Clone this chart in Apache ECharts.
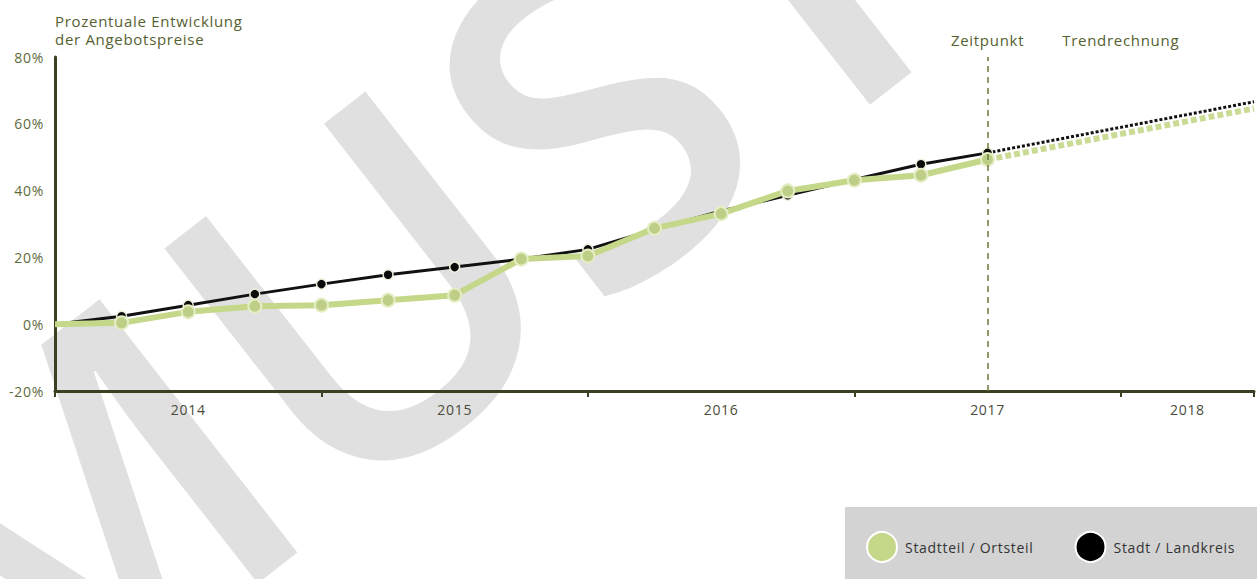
<!DOCTYPE html>
<html>
<head>
<meta charset="utf-8">
<script src="https://cdn.jsdelivr.net/npm/echarts@6/dist/echarts.min.js"></script>
<style>
  html, body { margin: 0; padding: 0; background: #fff; }
  #chart { width: 1257px; height: 579px; }
  #chart text { letter-spacing: 0.7px; }
</style>
</head>
<body>
<div id="chart"></div>
<script>
// Quarterly index (0 = start of 2014), values in percent
const quarters = [0, 1, 2, 3, 4, 5, 6, 7, 8, 9, 10, 11, 12, 13, 14];
const stadtteil = [0, 0.4, 3.7, 5.4, 5.7, 7.2, 8.7, 19.5, 20.4, 28.7, 33.1, 39.9, 43.1, 44.6, 49.3];
const stadt = [0, 2.4, 5.7, 9.0, 12.0, 14.8, 17.1, 19.5, 22.4, 28.4, 33.9, 38.6, 43.3, 47.9, 51.3];

// Trend projection from the reference point to the end of the axis
const trendQuarters = [14, 18];
const stadtteilTrend = [49.3, 64.6];
const stadtTrend = [51.3, 66.6];

const yearLabels = ['2014', '2015', '2016', '2017', '2018'];
const yearLabelAt = [2, 6, 10, 14, 17];
const referenceQuarter = 14;
const trendLabelAt = 16;

const seriesNames = ['Stadtteil / Ortsteil', 'Stadt / Landkreis'];
const yTitle = 'Prozentuale Entwicklung\nder Angebotspreise';

const pairs = (xs, ys) => xs.map((x, i) => [x, ys[i]]);

const axisColor = '#3a4122';
const olive = '#55612f';
const green = '#c5d88a';
const font = '"Open Sans", "Noto Sans", sans-serif';

const chart = echarts.init(document.getElementById('chart'), null, { renderer: 'svg' });

chart.setOption({
  animation: false,
  backgroundColor: '#fff',
  grid: { left: 55, right: 0, top: 57, bottom: 188, containLabel: false },
  legend: {
    left: 866, top: 531,
    padding: 0,
    itemGap: 55,
    itemWidth: 30, itemHeight: 30,
    icon: 'circle',
    textStyle: { fontFamily: font, fontSize: 14, color: '#333', padding: [0, 0, 0, 3] },
    data: [
      { name: seriesNames[0], itemStyle: { color: green, borderColor: '#fff', borderWidth: 2 } },
      { name: seriesNames[1], itemStyle: { color: '#000', borderColor: '#fff', borderWidth: 2 } }
    ]
  },
  xAxis: [
    {
      type: 'value', min: 0, max: 18, interval: 4,
      axisLine: { show: true, onZero: false, lineStyle: { color: axisColor, width: 3 } },
      axisTick: { show: true, length: 6, lineStyle: { color: axisColor, width: 2 } },
      axisLabel: { show: false },
      splitLine: { show: false }
    },
    {
      type: 'value', min: 0, max: 18, interval: 1, position: 'bottom',
      axisLine: { show: false, onZero: false }, axisTick: { show: false }, splitLine: { show: false },
      axisLabel: {
        show: true, margin: 11,
        fontFamily: font, fontSize: 14, color: '#4a4c3a',
        showMinLabel: true, showMaxLabel: true,
        formatter: v => { const i = yearLabelAt.indexOf(v); return i >= 0 ? yearLabels[i] : ''; }
      }
    }
  ],
  yAxis: {
    type: 'value', min: -20, max: 80, interval: 20,
    axisLine: { show: true, lineStyle: { color: axisColor, width: 3 } },
    axisTick: { show: false },
    splitLine: { show: false },
    axisLabel: { fontFamily: font, fontSize: 14, color: '#5f6a3c', margin: 11, formatter: v => v + '%' }
  },
  series: [
    {
      name: seriesNames[1], type: 'line', z: 3,
      data: pairs(quarters, stadt),
      lineStyle: { color: '#111', width: 3 },
      symbol: 'circle', symbolSize: (v, p) => (p.dataIndex === 0 ? 0 : 10),
      itemStyle: { color: '#0b0b0b', borderColor: '#eef2dc', borderWidth: 1.5 },
      markLine: {
        silent: true, symbol: 'none',
        lineStyle: { color: '#6a7a3a', type: [6, 5], width: 1.5 },
        label: { show: true, position: 'end', distance: 10, formatter: 'Zeitpunkt', fontFamily: font, fontSize: 15, color: olive },
        data: [{ xAxis: referenceQuarter }]
      }
    },
    {
      name: seriesNames[1] + ' Trend', type: 'line', z: 3,
      data: pairs(trendQuarters, stadtTrend),
      lineStyle: { color: '#111', width: 3, type: [3, 2] },
      symbol: 'none'
    },
    {
      name: seriesNames[0] + ' Trend', type: 'line', z: 4,
      data: pairs(trendQuarters, stadtteilTrend),
      lineStyle: { color: '#cadb95', width: 6, type: [6, 3] },
      symbol: 'none'
    },
    {
      name: seriesNames[0], type: 'line', z: 4,
      data: pairs(quarters, stadtteil),
      lineStyle: { color: green, width: 6 },
      symbol: 'circle', symbolSize: (v, p) => (p.dataIndex === 0 ? 0 : 13),
      itemStyle: { color: '#bdcf86', borderColor: '#e4edc4', borderWidth: 2 }
    }
  ]
});

// Annotation texts positioned from axis coordinates
const tp = chart.convertToPixel({ xAxisIndex: 0, yAxisIndex: 0 }, [trendLabelAt, 80]);
const yTop = chart.convertToPixel({ yAxisIndex: 0 }, 80);
chart.setOption({
  graphic: [
    {
      // diagonal "MUSTER" watermark behind the plot, running off the top edge
      type: 'text', z: -10, silent: true,
      x: 603, y: 92, rotation: 38 * Math.PI / 180,
      style: { text: 'MUSTER', font: '600 450px "Open Sans", sans-serif', fill: '#e0e0e0', align: 'center', verticalAlign: 'middle' }
    },
    {
      // grey panel behind the legend, flush with the bottom-right corner
      type: 'rect', z: -5, silent: true, right: 0, bottom: 0,
      shape: { width: 412, height: 72 },
      style: { fill: '#d3d3d3' }
    },
    {
      type: 'text', x: 55, y: yTop - 9,
      style: { text: yTitle, font: '15px ' + font, fill: olive, align: 'left', verticalAlign: 'bottom', lineHeight: 18 }
    },
    {
      type: 'text', x: tp[0], y: yTop - 17,
      style: { text: 'Trendrechnung', font: '15px ' + font, fill: olive, align: 'center', verticalAlign: 'middle' }
    }
  ]
});
</script>
</body>
</html>
